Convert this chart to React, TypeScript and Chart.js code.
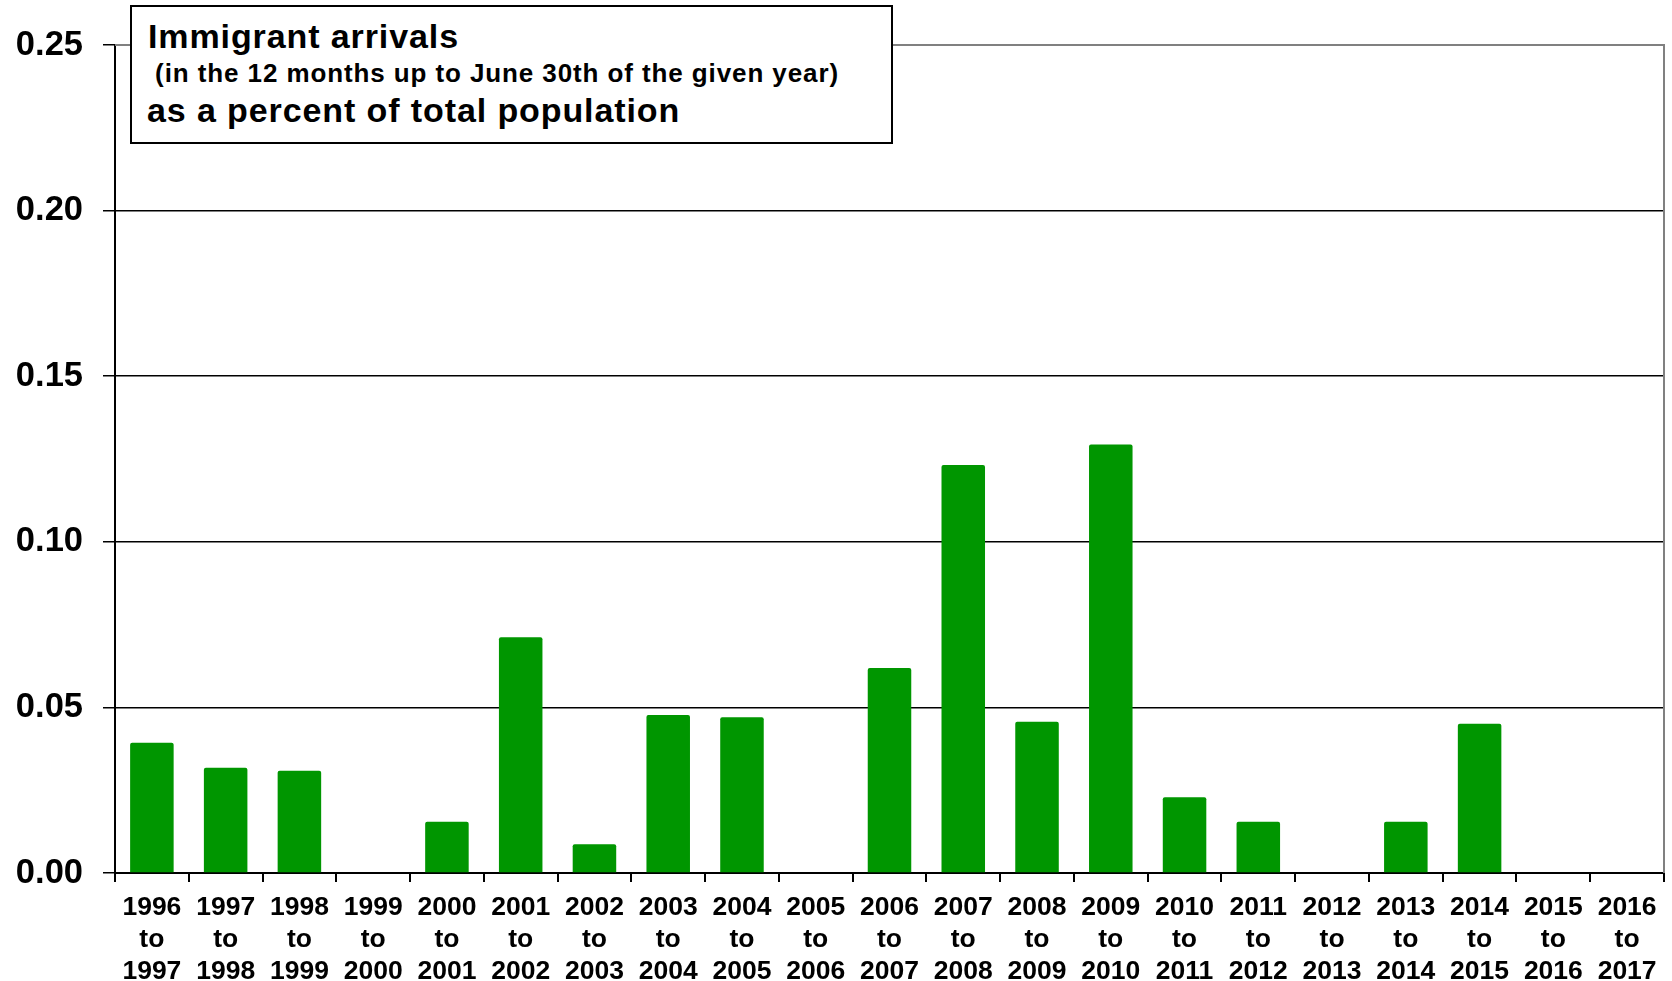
import React, { useEffect, useRef } from 'react';
import { Chart, registerables } from 'chart.js';

Chart.register(...registerables);

// ---- data ----
const startYears = ['1996', '1997', '1998', '1999', '2000', '2001', '2002', '2003', '2004', '2005', '2006', '2007', '2008', '2009', '2010', '2011', '2012', '2013', '2014', '2015', '2016'];
const endYears = ['1997', '1998', '1999', '2000', '2001', '2002', '2003', '2004', '2005', '2006', '2007', '2008', '2009', '2010', '2011', '2012', '2013', '2014', '2015', '2016', '2017'];
const arrivalsPct = [0.0393, 0.0318, 0.0309, 0, 0.0155, 0.0712, 0.0087, 0.0477, 0.0470, 0, 0.0619, 0.1232, 0.0457, 0.1294, 0.0229, 0.0155, 0, 0.0155, 0.0451, 0, 0];
const yMin = 0;
const yMax = 0.25;
const yStep = 0.05;
const titleLine1 = 'Immigrant arrivals';
const titleLine2 = ' (in the 12 months up to June 30th of the given year)';
const titleLine3 = 'as a percent of total population';

const FONT = '"Liberation Sans", Arial, Helvetica, sans-serif';

const plotBorder = {
  id: 'plotBorder',
  afterDraw(chart: any) {
    const { ctx, chartArea } = chart;
    ctx.save();
    ctx.strokeStyle = '#808080';
    ctx.lineWidth = 2;
    ctx.beginPath();
    ctx.moveTo(chartArea.left, chartArea.top);
    ctx.lineTo(chartArea.right, chartArea.top);
    ctx.lineTo(chartArea.right, chartArea.bottom);
    ctx.stroke();
    ctx.restore();
  },
};

export default function App() {
  const ref = useRef<HTMLCanvasElement>(null);

  useEffect(() => {
    document.body.style.margin = '0';
    Chart.defaults.font.family = FONT;
    const labels = startYears.map((s, i) => [s, 'to', endYears[i]]);
    const chart = new Chart(ref.current as HTMLCanvasElement, {
      type: 'bar',
      data: {
        labels,
        datasets: [
          {
            data: arrivalsPct,
            backgroundColor: 'rgb(0,150,0)',
            borderRadius: 2,
            borderSkipped: 'bottom',
            barPercentage: 0.59,
            categoryPercentage: 1,
          },
        ],
      },
      options: {
        animation: false,
        responsive: true,
        maintainAspectRatio: false,
        layout: { padding: { top: 45, right: 8, bottom: 0, left: 0 } },
        plugins: {
          legend: { display: false },
          tooltip: { enabled: false },
          title: { display: false },
        },
        scales: {
          x: {
            grid: {
              offset: true,
              drawOnChartArea: false,
              drawTicks: true,
              tickLength: 9,
              color: '#000',
              lineWidth: 2,
            },
            border: { display: true, color: '#000', width: 2 },
            ticks: {
              color: '#000',
              font: { size: 26.5, weight: 'bold', lineHeight: 1.2 },
              padding: 10,
              maxRotation: 0,
              minRotation: 0,
              autoSkip: false,
            },
            afterFit: (s: any) => {
              s.height = 108;
            },
          },
          y: {
            min: yMin,
            max: yMax,
            ticks: {
              stepSize: yStep,
              callback: (v: any) => Number(v).toFixed(2),
              color: '#000',
              font: { size: 34.5, weight: 'bold' },
              padding: 20,
            },
            grid: {
              color: (ctx: any) => (ctx.tick && Math.abs(ctx.tick.value - yMax) < 1e-9 ? '#808080' : '#000'),
              tickColor: '#000',
              lineWidth: 1.5,
              tickLength: 12,
            },
            border: { color: '#000', width: 2 },
            afterFit: (s: any) => {
              s.width = 115;
            },
          },
        },
      },
      plugins: [plotBorder],
    } as any);
    return () => chart.destroy();
  }, []);

  const lineStyle = (size: number, left: number, baseline: number): React.CSSProperties => ({
    position: 'absolute',
    left,
    top: baseline - 0.8465 * size,
    fontSize: size,
    lineHeight: `${size}px`,
    fontWeight: 'bold',
    fontFamily: FONT,
    letterSpacing: '0.9px',
    whiteSpace: 'pre',
    color: '#000',
  });

  return (
    <div style={{ position: 'absolute', left: 0, top: 0, width: 1672, height: 981, background: '#fff' }}>
      <canvas ref={ref} />
      <div
        style={{
          position: 'absolute',
          left: 130,
          top: 5,
          width: 763,
          height: 139,
          boxSizing: 'border-box',
          border: '2px solid #000',
          background: '#fff',
        }}
      >
        <div style={lineStyle(34, 16, 41)}>{titleLine1}</div>
        <div style={lineStyle(26, 15, 75.5)}>{titleLine2}</div>
        <div style={lineStyle(34, 15, 115)}>{titleLine3}</div>
      </div>
    </div>
  );
}
